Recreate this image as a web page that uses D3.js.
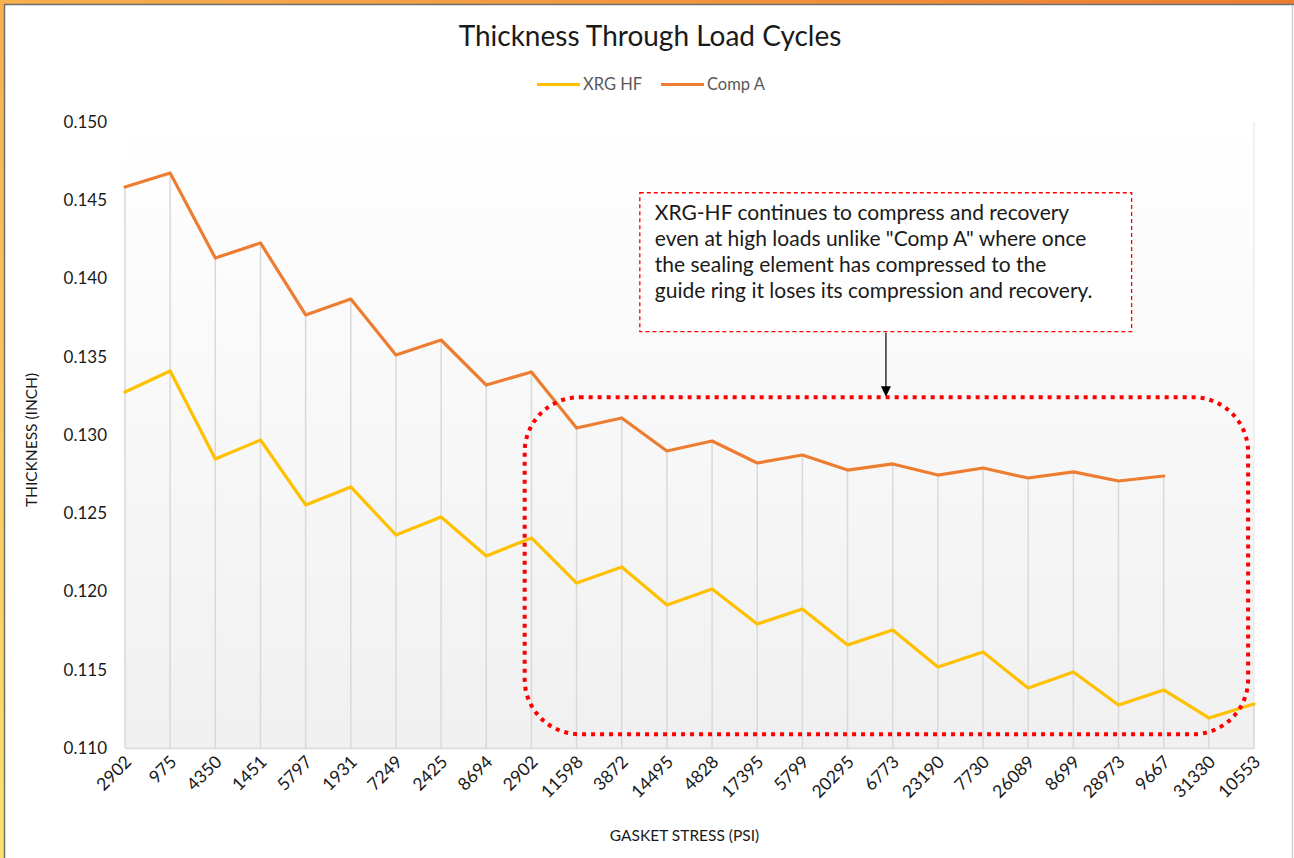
<!DOCTYPE html>
<html>
<head>
<meta charset="utf-8">
<script src="https://cdn.jsdelivr.net/npm/d3@7"></script>
<style>
  html, body { margin: 0; padding: 0; background: #fff; }
  svg { display: block; font-family: Lato, "Open Sans", sans-serif; }
</style>
</head>
<body>
<svg id="chart" width="1294" height="858"></svg>
<script>
// ---- data ----
const categories = ["2902","975","4350","1451","5797","1931","7249","2425","8694","2902",
  "11598","3872","14495","4828","17395","5799","20295","6773","23190","7730",
  "26089","8699","28973","9667","31330","10553"];
const xrgHF = [0.13275,0.13409,0.12847,0.12968,0.12553,0.12668,0.12361,0.12476,0.12227,0.12342,
  0.12054,0.12157,0.11914,0.12016,0.11792,0.11888,0.11658,0.11754,0.11518,0.11613,
  0.11383,0.11486,0.11275,0.11371,0.11192,0.11281];
const compA = [0.14585,0.14674,0.14131,0.14227,0.13767,0.13869,0.13511,0.13607,0.13319,0.13403,
  0.13045,0.13109,0.12898,0.12962,0.12821,0.12872,0.12776,0.12815,0.12744,0.12789,
  0.12725,0.12764,0.12706,0.12738,null,null];
const yTicks = [0.110,0.115,0.120,0.125,0.130,0.135,0.140,0.145,0.150];
const seriesNames = ["XRG HF","Comp A"];
const seriesColors = ["#FFC000","#ED7D31"];
const annotationLines = [
  "XRG-HF continues to compress and recovery",
  "even at high loads unlike \"Comp A\" where once",
  "the sealing element has compressed to the",
  "guide ring it loses its compression and recovery."
];

// ---- layout ----
const W = 1294, H = 858;
const plot = { left: 125, right: 1254, top: 122, bottom: 748 };

const svg = d3.select("#chart");
const defs = svg.append("defs");

// frame gradient
const fg = defs.append("linearGradient").attr("id","frameGrad")
  .attr("x1",1).attr("y1",0).attr("x2",0).attr("y2",1);
fg.append("stop").attr("offset","0%").attr("stop-color","#ED7D31");
fg.append("stop").attr("offset","100%").attr("stop-color","#FFE36A");

// plot gradient
const pg = defs.append("linearGradient").attr("id","plotGrad")
  .attr("x1",0).attr("y1",0).attr("x2",0).attr("y2",1);
pg.append("stop").attr("offset","0%").attr("stop-color","#FFFFFF");
pg.append("stop").attr("offset","100%").attr("stop-color","#F0F0F0");

svg.append("rect").attr("x",0).attr("y",0).attr("width",W).attr("height",H).attr("fill","url(#frameGrad)");
svg.append("rect").attr("x",4.5).attr("y",4.5).attr("width",W-4.5+2).attr("height",H)
  .attr("fill","#fff").attr("stroke","#6f6f6f").attr("stroke-width",1.5);
svg.append("line").attr("x1",W-1.5).attr("x2",W-1.5).attr("y1",5).attr("y2",H)
  .attr("stroke","#d0d0d0").attr("stroke-width",1.5);

// ---- scales ----
const idx = d3.range(categories.length);
const x = d3.scalePoint().domain(idx).range([plot.left, plot.right]).padding(0);
const xLin = d3.scaleLinear().domain([0, categories.length-1]).range([plot.left, plot.right]);
const y = d3.scaleLinear().domain([0.110, 0.150]).range([plot.bottom, plot.top]);

// plot background
svg.append("rect").attr("x",plot.left).attr("y",plot.top)
  .attr("width",plot.right-plot.left).attr("height",plot.bottom-plot.top)
  .attr("fill","url(#plotGrad)");
svg.append("line").attr("x1",plot.right).attr("x2",plot.right).attr("y1",plot.top).attr("y2",plot.bottom)
  .attr("stroke","#e4e4e4").attr("stroke-width",1);

// drop lines
svg.append("g").selectAll("line").data(idx).join("line")
  .attr("x1", i => x(i)).attr("x2", i => x(i))
  .attr("y1", i => y(compA[i] != null ? Math.max(compA[i], xrgHF[i]) : xrgHF[i]))
  .attr("y2", plot.bottom)
  .attr("stroke","#D9D9D9").attr("stroke-width",1.5);

// x axis
const xAxis = svg.append("g").attr("transform",`translate(0,${plot.bottom})`)
  .call(d3.axisBottom(x).tickSize(0).tickFormat(i => categories[i]));
xAxis.select(".domain").attr("stroke","#D9D9D9").attr("stroke-width",1.5);
xAxis.selectAll("text")
  .attr("font-family","Lato, sans-serif").attr("font-size",17.5).attr("fill","#1a1a1a")
  .attr("text-anchor","end").attr("dy",0)
  .attr("transform","translate(7,15) rotate(-45)")
  .attr("y",0).attr("x",0);

// y axis
const yAxis = svg.append("g").attr("transform",`translate(${plot.left},0)`)
  .call(d3.axisLeft(y).tickValues(yTicks).tickSize(0).tickPadding(18).tickFormat(d3.format(".3f")));
yAxis.select(".domain").remove();
yAxis.selectAll("text").attr("font-family","Lato, sans-serif").attr("font-size",17).attr("fill","#1a1a1a");

// lines
const series = [xrgHF, compA];
const lineGen = d3.line().defined(d => d != null).x((d,i) => x(i)).y(d => y(d));
series.forEach((s, k) => {
  svg.append("path").datum(s).attr("d", lineGen)
    .attr("fill","none").attr("stroke", seriesColors[k]).attr("stroke-width",3.2)
    .attr("stroke-linejoin","round").attr("stroke-linecap","round");
});

// title
svg.append("text").attr("x",650).attr("y",46).attr("text-anchor","middle")
  .attr("font-size",28).attr("fill","#1a1a1a").text("Thickness Through Load Cycles");

// legend
const legendItems = [{x:537, tx:583}, {x:661, tx:707}];
legendItems.forEach((p,k) => {
  svg.append("line").attr("x1",p.x).attr("x2",p.x+43).attr("y1",84.5).attr("y2",84.5)
    .attr("stroke",seriesColors[k]).attr("stroke-width",3.2);
  svg.append("text").attr("x",p.tx).attr("y",90).attr("font-size",16.5).attr("fill","#595959")
    .text(seriesNames[k]);
});

// axis titles
svg.append("text").attr("x",(plot.left+plot.right)/2-5).attr("y",841).attr("text-anchor","middle")
  .attr("font-size",15.5).attr("fill","#1a1a1a").text("GASKET STRESS (PSI)");
svg.append("text").attr("transform","translate(37,440) rotate(-90)").attr("text-anchor","middle")
  .attr("font-size",15.5).attr("fill","#1a1a1a").text("THICKNESS (INCH)");

// annotation: rounded dotted region
const regX0 = xLin(8.85), regX1 = xLin(24.87), regY0 = y(0.13241), regY1 = y(0.11088);
svg.append("rect").attr("x",regX0).attr("y",regY0).attr("width",regX1-regX0).attr("height",regY1-regY0)
  .attr("rx",55).attr("ry",55).attr("fill","none").attr("stroke","#FF0000")
  .attr("stroke-width",4).attr("stroke-dasharray","4 5");

// annotation box
const bx0 = xLin(11.40), bx1 = xLin(22.29), by0 = y(0.14548), by1 = y(0.1366);
svg.append("rect").attr("x",bx0).attr("y",by0).attr("width",bx1-bx0).attr("height",by1-by0)
  .attr("fill","#fff").attr("stroke","#FF0000").attr("stroke-width",1.3).attr("stroke-dasharray","4 3");
const tg = svg.append("text").attr("font-size",21).attr("fill","#1a1a1a");
annotationLines.forEach((t,i) => {
  tg.append("tspan").attr("x",bx0+15).attr("y",by0+27.5+i*25.8).text(t);
});

// arrow
const ax = xLin(16.85);
svg.append("line").attr("x1",ax).attr("x2",ax).attr("y1",by1+1).attr("y2",regY0-10)
  .attr("stroke","#000").attr("stroke-width",1.2);
svg.append("path").attr("d",`M${ax-5},${regY0-11} L${ax+5},${regY0-11} L${ax},${regY0-0.5} Z`).attr("fill","#000");
</script>
</body>
</html>
